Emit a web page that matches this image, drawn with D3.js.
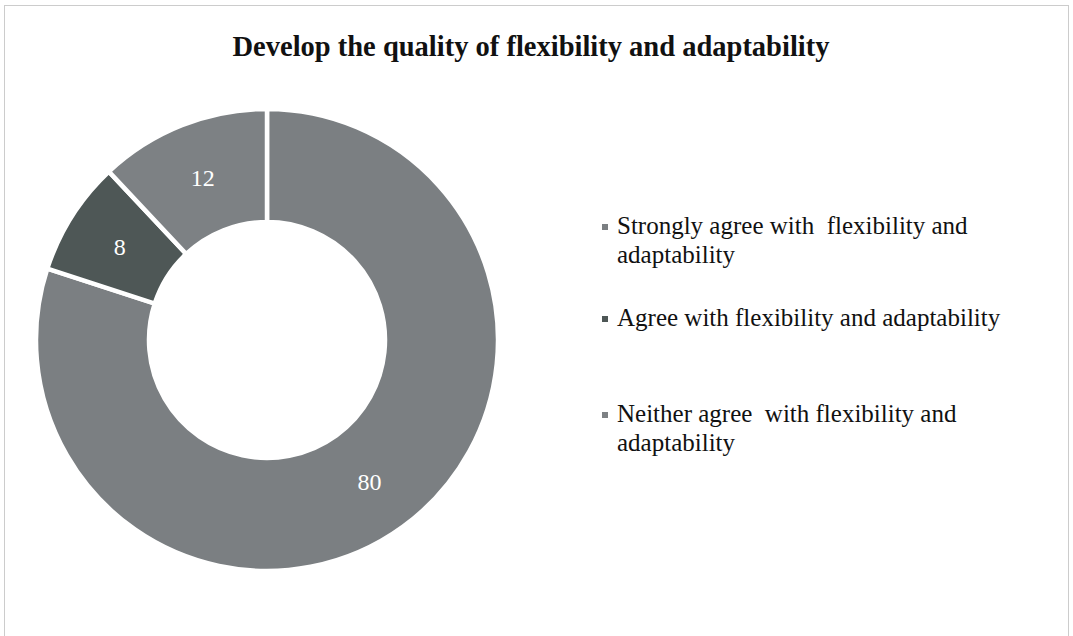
<!DOCTYPE html>
<html>
<head>
<meta charset="utf-8">
<script src="https://cdn.jsdelivr.net/npm/d3@7"></script>
<style>
  body { margin: 0; background: #fff; }
  svg { display: block; }
</style>
</head>
<body>
<div class="d3"></div>
<script>
const title = 'Develop the quality of flexibility and adaptability';
const categories = [
  'Strongly agree with  flexibility and adaptability',
  'Agree with flexibility and adaptability',
  'Neither agree  with flexibility and adaptability'
];
const values = [80, 8, 12];
const colors = ['#7b7f82', '#4e5756', '#7d8184'];
// legend text split the way the reference wraps it
const legendLines = [
  ['Strongly agree with  flexibility and', 'adaptability'],
  ['Agree with flexibility and adaptability'],
  ['Neither agree  with flexibility and', 'adaptability']
];

(() => {
  let width = 1073;
  let height = 636;
  let serif = '"Liberation Serif", "Times New Roman", serif';

  let svg = d3.select('.d3')
    .append('svg')
    .attr('width', width)
    .attr('height', height);

  // dotted frame
  svg.append('rect')
    .attr('x', 4.5).attr('y', 5.5)
    .attr('width', 1064).attr('height', 640)
    .attr('fill', 'none')
    .attr('stroke', '#999')
    .attr('stroke-width', 1)
    .attr('stroke-dasharray', '1,1');

  svg.append('text')
    .attr('x', 531)
    .attr('y', 56)
    .attr('text-anchor', 'middle')
    .style('font-family', serif)
    .style('font-weight', 'bold')
    .style('font-size', '28.5px')
    .attr('fill', '#111')
    .text(title);

  let cx = 267, cy = 340;
  let outerR = 231, innerR = 118;

  let pie = d3.pie().sort(null).value(d => d);
  let arc = d3.arc().innerRadius(innerR).outerRadius(outerR);
  let labelArc = d3.arc().innerRadius((innerR + outerR) / 2).outerRadius((innerR + outerR) / 2);

  let g = svg.append('g').attr('transform', `translate(${cx},${cy})`);
  let arcs = pie(values);

  g.selectAll('path')
    .data(arcs)
    .enter()
    .append('path')
    .attr('d', arc)
    .attr('fill', (d, i) => colors[i])
    .attr('stroke', '#fff')
    .attr('stroke-width', 4.5)
    .attr('stroke-linejoin', 'miter');

  g.selectAll('text')
    .data(arcs)
    .enter()
    .append('text')
    .attr('transform', d => `translate(${labelArc.centroid(d)})`)
    .attr('dy', '0.35em')
    .attr('text-anchor', 'middle')
    .style('font-family', serif)
    .style('font-size', '24px')
    .attr('fill', '#fff')
    .text(d => d.data);

  // legend
  let legendY = [234, 326, 422];
  let legend = svg.append('g');
  let items = legend.selectAll('g')
    .data(categories)
    .enter()
    .append('g')
    .attr('transform', (d, i) => `translate(602,${legendY[i]})`);

  items.append('rect')
    .attr('x', 0).attr('y', -10)
    .attr('width', 6).attr('height', 6)
    .attr('fill', (d, i) => colors[i]);

  items.append('text')
    .attr('x', 15)
    .style('font-family', serif)
    .style('font-size', '25px')
    .style('white-space', 'pre')
    .attr('fill', '#111')
    .selectAll('tspan')
    .data((d, i) => legendLines[i])
    .enter()
    .append('tspan')
    .attr('x', 15)
    .attr('dy', (d, j) => j === 0 ? 0 : 29)
    .text(d => d);
})();
</script>
</body>
</html>
